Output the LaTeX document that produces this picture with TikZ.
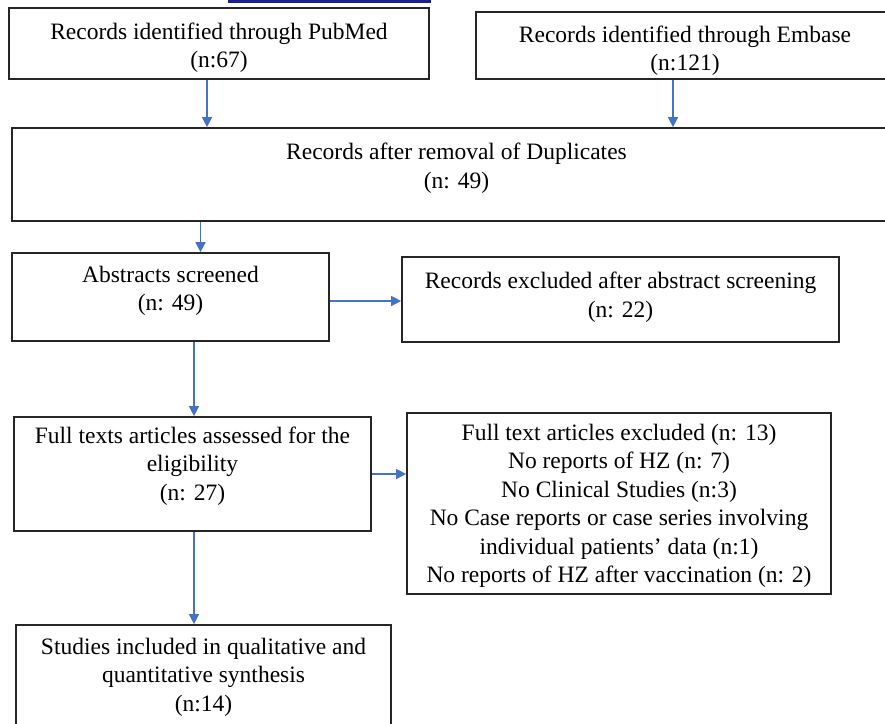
\documentclass[tikz,border=0pt]{standalone}
\usepackage{fontspec}
\setmainfont{Liberation Serif}
\usetikzlibrary{arrows.meta}

\definecolor{arrowblue}{HTML}{4472C4}
\definecolor{linkblue}{HTML}{1F1F8C}

\begin{document}
\begin{tikzpicture}[x=1pt,y=-1pt,
  box/.style={draw=black!85,line width=1.7pt,rectangle,inner sep=0pt},
  txt/.style={align=center,inner sep=0pt,font=\fontsize{23.5}{28.5}\selectfont},
  arr/.style={draw=arrowblue,line width=1.4pt,-{Triangle[length=10pt,width=10pt]}}]
\useasboundingbox (0,0) rectangle (885,723);
\clip (0,0) rectangle (885,723);

\fill [linkblue] (228,0) rectangle (431,3);

% records from the two databases

\node [box,minimum width=420pt,minimum height=71pt] (pubmed) at (219,43.5) {};
\node [txt] (pubmedtxt) at (219,47.5) {Records identified through PubMed\\(n:67)};
\node [box,minimum width=418pt,minimum height=67pt] (embase) at (685,45.5) {};
\node [txt] (embasetxt) at (685,50.5) {Records identified through Embase\\(n:121)};

\node [box,minimum width=889pt,minimum height=93pt] (dup) at (456.5,174.5) {};
\node [txt] (duptxt) at (456.5,168) {Records after removal of Duplicates\\(n: 49)};

% screening

\node [box,minimum width=317pt,minimum height=88pt] (abs) at (170.5,297) {};
\node [txt] (abstxt) at (170.5,291) {Abstracts screened\\(n: 49)};
\node [box,minimum width=437pt,minimum height=85pt] (recex) at (620.5,299.5) {};
\node [txt] (recextxt) at (620.5,297) {Records excluded after abstract screening\\(n: 22)};

% eligibility

\node [box,minimum width=357pt,minimum height=114pt] (full) at (192.5,474) {};
\node [txt] (fulltxt) at (192.5,466) {Full texts articles assessed for the\\eligibility\\(n: 27)};
\node [box,minimum width=424pt,minimum height=181pt] (fullex) at (619,503.5) {};
\node [txt] (fullextxt) at (619,506) {Full text articles excluded (n: 13)\\No reports of HZ (n: 7)\\No Clinical Studies (n:3)\\No Case reports or case series involving\\individual patients’ data (n:1)\\No reports of HZ after vaccination (n: 2)};

\node [box,minimum width=375pt,minimum height=110pt] (studies) at (203.5,680) {};
\node [txt] (studiestxt) at (203.5,677) {Studies included in qualitative and\\quantitative synthesis\\(n:14)};

% arrows

\draw [arr] ([xshift=-12pt]pubmed.south) -- ([xshift=-12pt]pubmed.south |- dup.north);
\draw [arr] ([xshift=-12pt]embase.south) -- ([xshift=-12pt]embase.south |- dup.north);
\draw [arr] ([xshift=30pt]abs.north |- dup.south) -- ([xshift=30pt]abs.north);
\draw [arr] ([yshift=-4pt]abs.east) -- ([yshift=-4pt]abs.east -| recex.west);
\draw [arr] ([xshift=1.5pt]full.north |- abs.south) -- ([xshift=1.5pt]full.north);
\draw [arr] (full.east) -- (full.east -| fullex.west);
\draw [arr] ([xshift=-9.5pt]studies.north |- full.south) -- ([xshift=-9.5pt]studies.north);

\end{tikzpicture}
\end{document}
